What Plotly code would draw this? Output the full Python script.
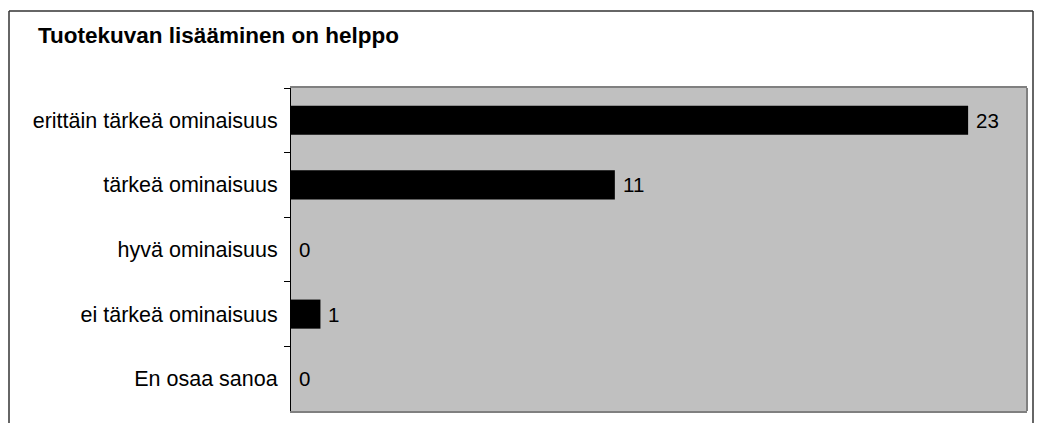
import plotly.graph_objects as go

title = "Tuotekuvan lisääminen on helppo"
categories = ["erittäin tärkeä ominaisuus", "tärkeä ominaisuus", "hyvä ominaisuus",
              "ei tärkeä ominaisuus", "En osaa sanoa"]
values = [23, 11, 0, 1, 0]

W, H = 1044, 423
L, R, T, B = 291, 17, 88, 12
pw, ph = W - L - R, H - T - B
FONT = "Arial, Liberation Sans, sans-serif"

def px_x(px):
    return (px - L) / pw

def px_y(py):
    return (H - B - py) / ph

fig = go.Figure(go.Bar(
    x=values, y=categories, orientation="h",
    marker=dict(color="black", line=dict(width=0)),
    width=0.45,
    hoverinfo="x+y",
))

value_labels = [dict(x=v, y=c, text=str(v), xref="x", yref="y", xanchor="left",
                     yanchor="middle", xshift=6, showarrow=False,
                     font=dict(family=FONT, size=20.5, color="black"))
                for c, v in zip(categories, values)]

fig.update_layout(
    width=W, height=H,
    margin=dict(l=L, r=R, t=T, b=B, pad=0),
    paper_bgcolor="white", plot_bgcolor="#C0C0C0",
    showlegend=False,
    font=dict(family=FONT, size=20, color="black"),
    xaxis=dict(range=[0, 25], showgrid=False, zeroline=False, showticklabels=False,
               ticks="", showline=True, mirror=True, linecolor="#808080", linewidth=2),
    yaxis=dict(autorange="reversed", showgrid=False, zeroline=False,
               ticks="outside", ticklen=6, tickcolor="black", tickson="boundaries",
               showline=True, linecolor="black", linewidth=1,
               tickfont=dict(family=FONT, size=21.5, color="black"),
               ticklabelstandoff=8),
    annotations=[dict(text="<b>" + title + "</b>", xref="paper", yref="paper",
                      x=px_x(36), y=px_y(35), xanchor="left", yanchor="middle",
                      showarrow=False,
                      font=dict(family=FONT, size=22.5, color="black"))] + value_labels,
    shapes=[
        dict(type="line", xref="paper", yref="paper", x0=1, x1=1, y0=0, y1=1,
             line=dict(color="#808080", width=2)),
        dict(type="line", xref="paper", yref="paper", x0=px_x(9), x1=px_x(9),
             y0=px_y(11), y1=px_y(440), line=dict(color="#333333", width=1.5)),
        dict(type="line", xref="paper", yref="paper", x0=px_x(9), x1=px_x(1033),
             y0=px_y(11), y1=px_y(11), line=dict(color="#333333", width=1.5)),
        dict(type="line", xref="paper", yref="paper", x0=px_x(1033), x1=px_x(1033),
             y0=px_y(11), y1=px_y(440), line=dict(color="#333333", width=1.5)),
    ],
)

fig.write_html("out.html")
